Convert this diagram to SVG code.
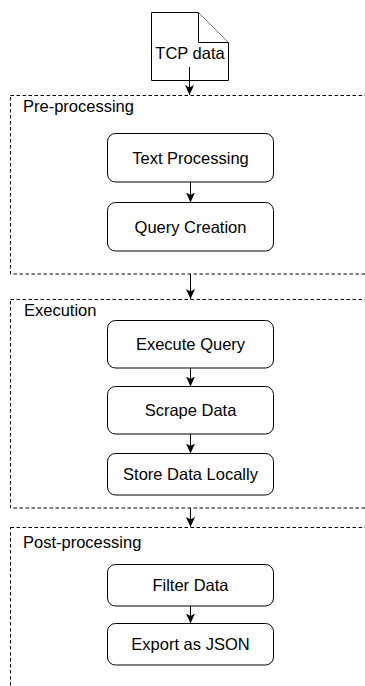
<svg xmlns="http://www.w3.org/2000/svg" width="365" height="686" viewBox="0 0 365 686">
  <style>
    .bg { fill: #ffffff; }
    .group { fill: none; stroke: #000000; stroke-width: 1; stroke-dasharray: 3.5 2.5; }
    .box { fill: #ffffff; stroke: #000000; stroke-width: 1; }
    .label { font-family: "Liberation Sans", Arial, sans-serif; font-size: 16.5px; fill: #000000; text-anchor: middle; }
    .title { font-family: "Liberation Sans", Arial, sans-serif; font-size: 16.5px; fill: #000000; }
    .edge { fill: none; stroke: #000000; stroke-width: 1; marker-end: url(#arrow); }
  </style>
  <defs>
    <marker id="arrow" viewBox="0 0 10 10" refX="10" refY="5" markerWidth="10" markerHeight="10" markerUnits="userSpaceOnUse" orient="auto">
      <path d="M0,0.5 L10,5 L0,9.5 L2.5,5 Z" fill="#000000"/>
    </marker>
  </defs>
  <rect class="bg" x="0" y="0" width="365" height="686"/>

  <!-- stage containers -->
  <g id="pre-processing">
    <rect class="group" x="10.5" y="95.5" width="370" height="178.5"/>
    <text class="title" x="23" y="112">Pre-processing</text>
  </g>
  <g id="execution">
    <rect class="group" x="10.5" y="299.5" width="370" height="208.5"/>
    <text class="title" x="24" y="316">Execution</text>
  </g>
  <g id="post-processing">
    <rect class="group" x="10.5" y="527.5" width="370" height="180"/>
    <text class="title" x="23" y="548">Post-processing</text>
  </g>

  <!-- input document -->
  <g id="tcp-data">
    <path class="box" d="M151.5,12.5 H198.5 L228.5,42.5 V80.5 H151.5 Z"/>
    <path class="box" d="M198.5,12.5 V42.5 H228.5" fill="none"/>
    <text class="label" x="190" y="58.5">TCP data</text>
  </g>

  <!-- process steps -->
  <g id="text-processing">
    <rect class="box" x="107.5" y="133.5" width="166" height="48.5" rx="8"/>
    <text class="label" x="190.5" y="163.5">Text Processing</text>
  </g>
  <g id="query-creation">
    <rect class="box" x="107.5" y="202.5" width="166" height="48.5" rx="8"/>
    <text class="label" x="190.5" y="232.5">Query Creation</text>
  </g>
  <g id="execute-query">
    <rect class="box" x="107.5" y="320.5" width="166" height="47.5" rx="8"/>
    <text class="label" x="190.5" y="350">Execute Query</text>
  </g>
  <g id="scrape-data">
    <rect class="box" x="107.5" y="386.5" width="166" height="47.5" rx="8"/>
    <text class="label" x="190.5" y="416">Scrape Data</text>
  </g>
  <g id="store-data-locally">
    <rect class="box" x="107.5" y="453.5" width="166" height="41.5" rx="8"/>
    <text class="label" x="190.5" y="480">Store Data Locally</text>
  </g>
  <g id="filter-data">
    <rect class="box" x="107.5" y="564.5" width="166" height="41.5" rx="8"/>
    <text class="label" x="190.5" y="591">Filter Data</text>
  </g>
  <g id="export-as-json">
    <rect class="box" x="107.5" y="623.5" width="166" height="41.5" rx="8"/>
    <text class="label" x="190.5" y="650">Export as JSON</text>
  </g>

  <!-- connectors -->
  <g id="connectors">
    <path class="edge" d="M189.5,67 V95"/>
    <path class="edge" d="M190.5,182 V202.5"/>
    <path class="edge" d="M190.5,274 V299"/>
    <path class="edge" d="M190.5,368 V386.5"/>
    <path class="edge" d="M190.5,434 V453.5"/>
    <path class="edge" d="M190.5,508 V527"/>
    <path class="edge" d="M190.5,606 V623.5"/>
  </g>
</svg>
